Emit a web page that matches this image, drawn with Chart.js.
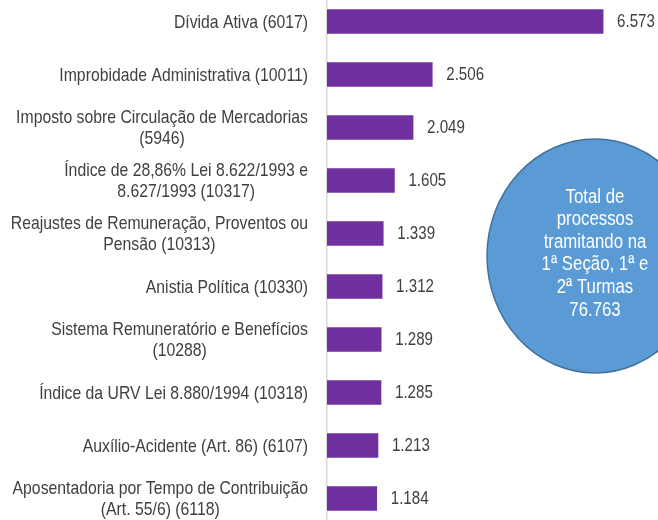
<!DOCTYPE html>
<html>
<head>
<meta charset="utf-8">
<script src="https://cdn.jsdelivr.net/npm/chart.js@4"></script>
<style>
  html, body { margin: 0; padding: 0; background: #ffffff; overflow: hidden; }
  #wrap { position: absolute; left: 0; top: -5px; width: 658px; height: 530px; }
</style>
</head>
<body>
<div id="wrap"><canvas id="c" width="658" height="530"></canvas></div>
<script>
const categories = [
  ["Dívida Ativa (6017)"],
  ["Improbidade Administrativa (10011)"],
  ["Imposto sobre Circulação de Mercadorias", "(5946)"],
  ["Índice de 28,86% Lei 8.622/1993 e", "8.627/1993 (10317)"],
  ["Reajustes de Remuneração, Proventos ou", "Pensão (10313)"],
  ["Anistia Política (10330)"],
  ["Sistema Remuneratório e Benefícios", "(10288)"],
  ["Índice da URV Lei 8.880/1994 (10318)"],
  ["Auxílio-Acidente (Art. 86) (6107)"],
  ["Aposentadoria por Tempo de Contribuição", "(Art. 55/6) (6118)"]
];
const values = [6573, 2506, 2049, 1605, 1339, 1312, 1289, 1285, 1213, 1184];
const totalLines = ["Total de", "processos", "tramitando na", "1ª Seção, 1ª e", "2ª Turmas", "76.763"];

const FONT = '"Liberation Sans", Arial, sans-serif';
const NARROW = 0.83;

function fmt(n) {
  return String(n).replace(/\B(?=(\d{3})+(?!\d))/g, ".");
}

function narrowText(ctx, text, x, y, sx) {
  ctx.save();
  ctx.translate(x, y);
  ctx.scale(sx, 1);
  ctx.fillText(text, 0, 0);
  ctx.restore();
}

const yLabels = {
  id: 'yLabels',
  afterDraw(chart) {
    const scale = chart.scales.y;
    const ctx = chart.ctx;
    const lh = 21.5;
    ctx.save();
    ctx.font = '19px ' + FONT;
    ctx.fillStyle = '#404040';
    ctx.textBaseline = 'middle';
    ctx.textAlign = 'center';
    const right = scale.right - 19;
    chart.data.labels.forEach((lines, i) => {
      const y = scale.getPixelForTick(i) + 1;
      const maxW = Math.max(...lines.map(l => ctx.measureText(l).width)) * NARROW;
      const cx = right - maxW / 2;
      const y0 = y - lh * (lines.length - 1) / 2;
      lines.forEach((l, j) => narrowText(ctx, l, cx, y0 + j * lh, NARROW));
    });
    ctx.restore();
  }
};

const valueLabels = {
  id: 'valueLabels',
  afterDatasetsDraw(chart) {
    const ctx = chart.ctx;
    const meta = chart.getDatasetMeta(0);
    ctx.save();
    ctx.font = '18px ' + FONT;
    ctx.fillStyle = '#404040';
    ctx.textAlign = 'left';
    ctx.textBaseline = 'middle';
    meta.data.forEach((bar, i) => {
      narrowText(ctx, fmt(chart.data.datasets[0].data[i]), bar.x + 14, bar.y + 1, 0.84);
    });
    ctx.restore();
  }
};

const bubble = {
  id: 'bubble',
  afterDraw(chart) {
    const ctx = chart.ctx;
    const cx = 595, cy = 261, rx = 108, ry = 117;
    ctx.save();
    ctx.beginPath();
    ctx.ellipse(cx, cy, rx, ry, 0, 0, Math.PI * 2);
    ctx.fillStyle = '#5b9bd5';
    ctx.fill();
    ctx.lineWidth = 1.5;
    ctx.strokeStyle = '#41719c';
    ctx.stroke();
    ctx.fillStyle = '#ffffff';
    ctx.font = '20px ' + FONT;
    ctx.textAlign = 'center';
    ctx.textBaseline = 'middle';
    const lh = 22.6;
    const startY = cy - 2.5 - lh * (totalLines.length - 1) / 2;
    totalLines.forEach((t, i) => narrowText(ctx, t, cx, startY + i * lh, 0.84));
    ctx.restore();
  }
};

new Chart(document.getElementById('c'), {
  type: 'bar',
  data: {
    labels: categories,
    datasets: [{
      data: values,
      backgroundColor: '#7030a0',
      borderWidth: 0,
      barThickness: 24
    }]
  },
  options: {
    indexAxis: 'y',
    responsive: false,
    animation: false,
    layout: { padding: 0 },
    plugins: { legend: { display: false }, tooltip: { enabled: false } },
    scales: {
      x: { display: false, min: 0, max: 7880 },
      y: {
        afterFit(scale) {
          scale.width = 327;
          scale.paddingTop = 0;
          scale.paddingBottom = 0;
        },
        grid: { display: false, drawTicks: false },
        border: { display: true, color: '#d9d9d9', width: 1.5 },
        ticks: { display: false, autoSkip: false }
      }
    }
  },
  plugins: [valueLabels, yLabels, bubble]
});
</script>
</body>
</html>
